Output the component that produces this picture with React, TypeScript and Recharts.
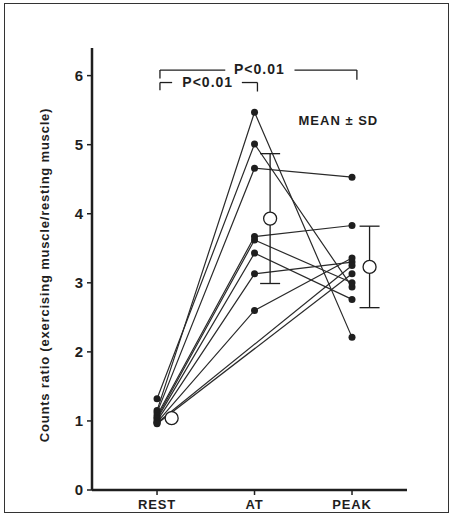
import {
  ComposedChart,
  Line,
  Scatter,
  ErrorBar,
  XAxis,
  YAxis,
  ReferenceLine,
  ReferenceDot,
} from "recharts";

// categories on the x axis (numeric positions 1..3)
const categories = ["REST", "AT", "PEAK"];
const categoryPos = [1, 2, 3];

// individual subjects (null = AT not reached)
const restValues = [1.32, 1.15, 1.12, 1.08, 1.05, 1.03, 1.0, 0.98, 0.97, 0.96];
const atValues = [5.01, 5.47, 4.66, 3.67, 3.62, 3.43, 3.13, 2.6, null, null];
const peakValues = [2.94, 2.21, 4.53, 3.83, 3.0, 2.76, 3.3, 3.36, 3.25, 3.13];

// group mean ± SD (drawn just right of each category)
const meanPos = [1.15, 2.16, 3.18];
const meanValues = [1.04, 3.93, 3.23];
const sdValues = [0, 0.94, 0.59];

const yTicks = [0, 1, 2, 3, 4, 5, 6];

const subjects = restValues.map((r, i) => [
  { x: categoryPos[0], y: r },
  { x: categoryPos[1], y: atValues[i] },
  { x: categoryPos[2], y: peakValues[i] },
]);

const means = meanValues.map((m, i) => ({ x: meanPos[i], y: m, sd: sdValues[i] }));

const INK = "#1e1e1e";
const FONT = "'Liberation Sans', Arial, sans-serif";

const MeanDot = (props: any) => (
  <circle cx={props.cx} cy={props.cy} r={6.5} fill="#fff" stroke={INK} strokeWidth={1.3} />
);

const textLabel = (value: string, size = 14) => ({
  value,
  position: "center" as const,
  fill: INK,
  fontSize: size,
  fontWeight: 700,
  fontFamily: FONT,
  letterSpacing: 1,
});

export default function App() {
  return (
    <div style={{ position: "absolute", left: 0, top: 0, width: 455, height: 529, background: "#fff" }}>
      <div
        style={{
          position: "absolute",
          left: 4,
          top: 3,
          width: 443,
          height: 508,
          border: "1.5px solid #333",
        }}
      />
      <ComposedChart
        width={455}
        height={529}
        margin={{ top: 48, right: 48, bottom: 9, left: 0 }}
        style={{ position: "absolute", left: 0, top: 0 }}
      >
        <XAxis
          type="number"
          dataKey="x"
          domain={[0.333, 3.564]}
          ticks={categoryPos}
          tickFormatter={(v: number) => categories[categoryPos.indexOf(v)] ?? ""}
          height={30}
          tickSize={5}
          tickMargin={5}
          axisLine={{ stroke: INK, strokeWidth: 2.5 }}
          tickLine={{ stroke: INK, strokeWidth: 1.5 }}
          tick={{ fill: INK, fontSize: 13, fontWeight: 700, fontFamily: FONT, letterSpacing: 0.8 }}
          allowDataOverflow
        />
        <YAxis
          type="number"
          domain={[0, 6.4]}
          ticks={yTicks}
          width={92}
          tickSize={5}
          tickMargin={4}
          axisLine={{ stroke: INK, strokeWidth: 2.5 }}
          tickLine={{ stroke: INK, strokeWidth: 1.5 }}
          tick={{ fill: INK, fontSize: 15, fontWeight: 700, fontFamily: FONT }}
          label={() => (
            <text
              x={44}
              y={275}
              transform="rotate(-90 44 275)"
              textAnchor="middle"
              dominantBaseline="central"
              fill={INK}
              fontSize={13}
              fontWeight={700}
              fontFamily={FONT}
              letterSpacing={0.8}
            >
              Counts ratio (exercising muscle/resting muscle)
            </text>
          )}
        />

        {subjects.map((d, i) => (
          <Line
            key={i}
            data={d}
            dataKey="y"
            type="linear"
            stroke="#2a2a2a"
            strokeWidth={1.2}
            connectNulls
            dot={{ r: 3.5, fill: INK, stroke: INK, strokeWidth: 0 }}
            activeDot={false}
            isAnimationActive={false}
          />
        ))}

        <Scatter data={means} dataKey="y" shape={MeanDot} isAnimationActive={false}>
          <ErrorBar dataKey="sd" direction="y" width={10} stroke={INK} strokeWidth={1.3} />
        </Scatter>

        {/* outer bracket REST–PEAK */}
        <ReferenceLine segment={[{ x: 1.03, y: 5.96 }, { x: 1.03, y: 6.08 }]} stroke={INK} strokeWidth={1.3} />
        <ReferenceLine segment={[{ x: 1.03, y: 6.08 }, { x: 1.7, y: 6.08 }]} stroke={INK} strokeWidth={1.3} />
        <ReferenceLine segment={[{ x: 2.41, y: 6.08 }, { x: 3.05, y: 6.08 }]} stroke={INK} strokeWidth={1.3} />
        <ReferenceLine segment={[{ x: 3.05, y: 6.08 }, { x: 3.05, y: 5.94 }]} stroke={INK} strokeWidth={1.3} />
        <ReferenceDot x={2.05} y={6.09} r={0} fill="none" stroke="none" label={textLabel("P<0.01")} />

        {/* inner bracket REST–AT */}
        <ReferenceLine segment={[{ x: 1.03, y: 5.79 }, { x: 1.03, y: 5.9 }]} stroke={INK} strokeWidth={1.3} />
        <ReferenceLine segment={[{ x: 1.03, y: 5.9 }, { x: 1.155, y: 5.9 }]} stroke={INK} strokeWidth={1.3} />
        <ReferenceLine segment={[{ x: 1.87, y: 5.9 }, { x: 2.03, y: 5.9 }]} stroke={INK} strokeWidth={1.3} />
        <ReferenceLine segment={[{ x: 2.03, y: 5.9 }, { x: 2.03, y: 5.77 }]} stroke={INK} strokeWidth={1.3} />
        <ReferenceDot x={1.52} y={5.91} r={0} fill="none" stroke="none" label={textLabel("P<0.01")} />

        <ReferenceDot x={2.86} y={5.35} r={0} fill="none" stroke="none" label={textLabel("MEAN ± SD", 13)} />
      </ComposedChart>
    </div>
  );
}
